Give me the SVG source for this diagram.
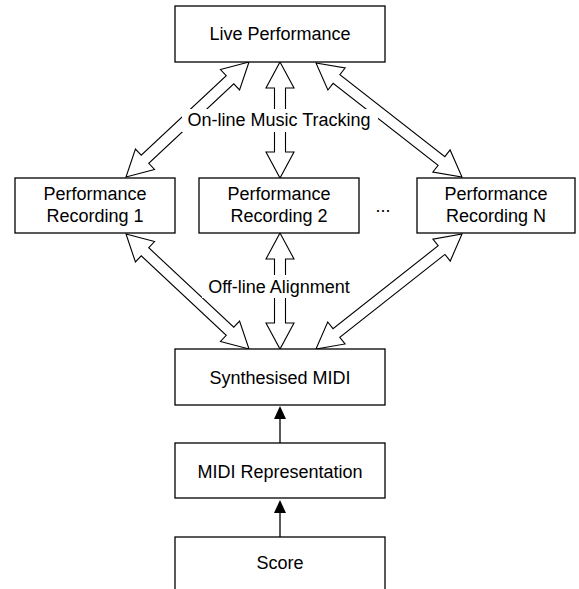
<svg xmlns="http://www.w3.org/2000/svg" width="579" height="589" viewBox="0 0 579 589">
<style>
.box{fill:#fff;stroke:#000;stroke-width:1.3}
.t{font-family:"Liberation Sans",Arial,sans-serif;font-size:18px;fill:#000;text-anchor:middle}
.ba{fill:#fff;stroke:#000;stroke-width:1.1;stroke-linejoin:miter}
.ln{stroke:#000;stroke-width:1.3;fill:none}
.hd{fill:#000;stroke:none}
.bg{fill:#fff;stroke:none}
</style>
<rect width="579" height="589" fill="#fff"/>
<g id="connectors">
  <!-- Live <-> Recording 1 -->
  <polygon class="ba" transform="translate(249,62) rotate(136.92)" points="0,0 26,-14 26,-5.5 142.4,-5.5 142.4,-14 168.4,0 142.4,14 142.4,5.5 26,5.5 26,14"/>
  <!-- Live <-> Recording N -->
  <polygon class="ba" transform="translate(316,63) rotate(37.98)" points="0,0 26,-14 26,-5.5 159.2,-5.5 159.2,-14 185.2,0 159.2,14 159.2,5.5 26,5.5 26,14"/>
  <!-- Live <-> Recording 2 -->
  <polygon class="ba" transform="translate(280,62) rotate(90)" points="0,0 26,-14 26,-5.5 90,-5.5 90,-14 116,0 90,14 90,5.5 26,5.5 26,14"/>
  <!-- Recording 1 <-> Synth -->
  <polygon class="ba" transform="translate(126,234) rotate(43.08)" points="0,0 26,-14 26,-5.5 142.4,-5.5 142.4,-14 168.4,0 142.4,14 142.4,5.5 26,5.5 26,14"/>
  <!-- Recording N <-> Synth -->
  <polygon class="ba" transform="translate(462,234) rotate(141.77)" points="0,0 26,-14 26,-5.5 159.9,-5.5 159.9,-14 185.9,0 159.9,14 159.9,5.5 26,5.5 26,14"/>
  <!-- Recording 2 <-> Synth -->
  <polygon class="ba" transform="translate(280,233) rotate(90)" points="0,0 26,-14 26,-5.5 90,-5.5 90,-14 116,0 90,14 90,5.5 26,5.5 26,14"/>
  <!-- labels -->
  <rect class="bg" x="182" y="109" width="196" height="23"/>
  <text class="t" x="279" y="126">On-line Music Tracking</text>
  <rect class="bg" x="202" y="275" width="154" height="23"/>
  <text class="t" x="279" y="293">Off-line Alignment</text>
  <!-- MIDI Rep -> Synth -->
  <line class="ln" x1="280" y1="443" x2="280" y2="418"/>
  <polygon class="hd" points="280,406 274,419 286,419"/>
  <!-- Score -> MIDI Rep -->
  <line class="ln" x1="280" y1="537" x2="280" y2="512"/>
  <polygon class="hd" points="280,500 274,513 286,513"/>
</g>
<g id="live">
  <rect class="box" x="175" y="6" width="210" height="56"/>
  <text class="t" x="280" y="40">Live Performance</text>
</g>
<g id="rec1">
  <rect class="box" x="15" y="178" width="160" height="55"/>
  <text class="t" x="95" y="200">Performance</text>
  <text class="t" x="95" y="222">Recording 1</text>
</g>
<g id="rec2">
  <rect class="box" x="199" y="178" width="160" height="55"/>
  <text class="t" x="279" y="200">Performance</text>
  <text class="t" x="279" y="222">Recording 2</text>
</g>
<g id="dots">
  <text class="t" x="383" y="212">...</text>
</g>
<g id="recN">
  <rect class="box" x="417" y="178" width="158" height="55"/>
  <text class="t" x="496" y="200">Performance</text>
  <text class="t" x="496" y="222">Recording N</text>
</g>
<g id="synth">
  <rect class="box" x="175" y="349" width="210" height="56"/>
  <text class="t" x="280" y="384">Synthesised MIDI</text>
</g>
<g id="midirep">
  <rect class="box" x="175" y="443" width="210" height="55"/>
  <text class="t" x="280" y="478">MIDI Representation</text>
</g>
<g id="score">
  <rect class="box" x="175" y="537" width="210" height="60"/>
  <text class="t" x="280" y="569">Score</text>
</g>
</svg>
